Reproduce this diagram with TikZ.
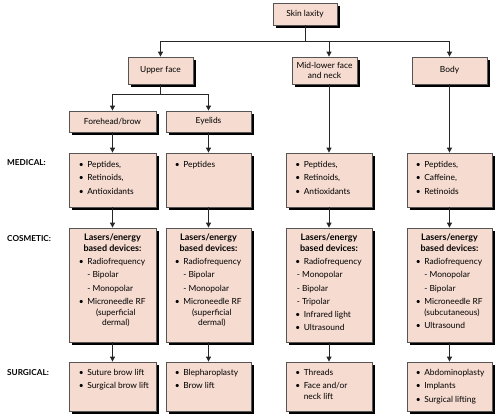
\documentclass[tikz,border=0pt]{standalone}
\usepackage{fontspec}
\setmainfont{Lato}
\usetikzlibrary{shadows,arrows.meta,calc}
\definecolor{boxfill}{RGB}{246,219,208}
\definecolor{boxline}{RGB}{85,85,85}
\tikzset{
 box/.style={draw=boxline, line width=0.8pt, fill=boxfill,
   drop shadow={shadow xshift=2.5pt, shadow yshift=-2.5pt, fill=black, opacity=1},
   inner sep=0pt, align=center, font=\fontsize{8.4}{10}\selectfont},
 txt/.style={anchor=north west, inner sep=0pt, align=left, font=\fontsize{8.4}{13.3}\selectfont},
 hdr/.style={anchor=north, inner sep=0pt, align=center, font=\bfseries\fontsize{9}{10.3}\selectfont},
 lbl/.style={anchor=west, inner sep=0pt, font=\bfseries\fontsize{8.2}{9}\selectfont},
 conn/.style={draw=black!85, line width=0.9pt},
 arr/.style={conn, -{Triangle[length=5pt,width=5pt]}},
}
\newcommand{\bul}{\makebox[8.5pt][l]{\textbullet}}
\newcommand{\ind}{\hspace*{8.5pt}}
\begin{document}
\begin{tikzpicture}[x=1pt,y=-1pt]
\useasboundingbox (0,0) rectangle (500,418);
% top levels
\node[box, minimum width=64, minimum height=22] (skin) at (305,14) {Skin laxity};
\node[box, minimum width=65, minimum height=27] (upper) at (160.5,70.5) {Upper face};
\node[box, minimum width=65, minimum height=27] (mid) at (324.5,70.5) {Mid-lower face\\and neck};
\node[box, minimum width=75, minimum height=27] (body) at (449.5,70.5) {Body};
\node[box, minimum width=87, minimum height=21] (fore) at (112.5,121.5) {Forehead/brow};
\node[box, minimum width=85, minimum height=21] (eye) at (208.5,121.5) {Eyelids};
% medical row
\node[box, minimum width=87, minimum height=54] (m1) at (112.5,180) {};
\node[box, minimum width=85, minimum height=54] (m2) at (208.5,180) {};
\node[box, minimum width=86, minimum height=54] (m3) at (329,180) {};
\node[box, minimum width=85, minimum height=54] (m4) at (449.5,180) {};
% cosmetic row
\node[box, minimum width=87, minimum height=114] (c1) at (112.5,285) {};
\node[box, minimum width=85, minimum height=114] (c2) at (208.5,285) {};
\node[box, minimum width=86, minimum height=114] (c3) at (329,285) {};
\node[box, minimum width=85, minimum height=114] (c4) at (449.5,285) {};
% surgical row
\node[box, minimum width=87, minimum height=49] (s1) at (112.5,386.5) {};
\node[box, minimum width=85, minimum height=49] (s2) at (208.5,386.5) {};
\node[box, minimum width=86, minimum height=49] (s3) at (329,386.5) {};
\node[box, minimum width=85, minimum height=49] (s4) at (449.5,386.5) {};
% row labels
\node[lbl] (lmed) at (7,162.5) {MEDICAL:};
\node[lbl] (lcos) at (7,239) {COSMETIC:};
\node[lbl] (lsur) at (7,372.5) {SURGICAL:};
% medical texts
\node[txt] (tm1) at ($(m1.north west)+(10,8.5)$) {\bul Peptides,\\\bul Retinoids,\\\bul Antioxidants};
\node[txt] (tm2) at ($(m2.north west)+(9,8.5)$) {\bul Peptides};
\node[txt] (tm3) at ($(m3.north west)+(9.5,8.5)$) {\bul Peptides,\\\bul Retinoids,\\\bul Antioxidants};
\node[txt] (tm4) at ($(m4.north west)+(9,8.5)$) {\bul Peptides,\\\bul Caffeine,\\\bul Retinoids};
% cosmetic texts
\node[hdr] (hc1) at ($(c1.north)+(0,6.5)$) {Lasers/energy\\based devices:};
\node[hdr] (hc2) at ($(c2.north)+(0,6.5)$) {Lasers/energy\\based devices:};
\node[hdr] (hc3) at ($(c3.north)+(0,6.5)$) {Lasers/energy\\based devices:};
\node[hdr] (hc4) at ($(c4.north)+(0,6.5)$) {Lasers/energy\\based devices:};
\node[txt] (tc1) at ($(c1.north west)+(10,30.5)$) {\bul Radiofrequency\\\ind - Bipolar\\\ind - Monopolar\\\bul Microneedle RF\\[-2.5pt]\ind\makebox[57pt][c]{(superficial}\\[-2.5pt]\ind\makebox[57pt][c]{dermal)}};
\node[txt] (tc2) at ($(c2.north west)+(9,30.5)$) {\bul Radiofrequency\\\ind - Bipolar\\\ind - Monopolar\\\bul Microneedle RF\\[-2.5pt]\ind\makebox[57pt][c]{(superficial}\\[-2.5pt]\ind\makebox[57pt][c]{dermal)}};
\node[txt] (tc3) at ($(c3.north west)+(9.5,30.5)$) {\bul Radiofrequency\\\hspace*{1.5pt}- Monopolar\\\hspace*{1.5pt}- Bipolar\\\hspace*{1.5pt}- Tripolar\\\bul Infrared light\\\bul Ultrasound};
\node[txt] (tc4) at ($(c4.north west)+(9,30.5)$) {\bul Radiofrequency\\\ind - Monopolar\\\ind - Bipolar\\\bul Microneedle RF\\[-2.5pt]\ind (subcutaneous)\\\bul Ultrasound};
% surgical texts
\node[txt] (ts1) at ($(s1.north west)+(10,7.5)$) {\bul Suture brow lift\\\bul Surgical brow lift};
\node[txt] (ts2) at ($(s2.north west)+(9,7.5)$) {\bul Blepharoplasty\\\bul Brow lift};
\node[txt] (ts3) at ($(s3.north west)+(9.5,7.5)$) {\bul Threads\\\bul Face and/or\\[-2.5pt]\ind neck lift};
\node[txt] (ts4) at ($(s4.north west)+(9,7.5)$) {\bul Abdominoplasty\\\bul Implants\\\bul Surgical lifting};
% connectors
\coordinate (j1) at ($(skin.south)+(0,16)$);
\draw[conn] (skin.south) -- (j1);
\draw[conn] (j1 -| upper.north) -- (j1 -| body.north);
\draw[arr] (j1 -| upper.north) -- (upper.north);
\draw[arr] (j1 -| m3.north) -- (m3.north |- mid.north);
\draw[arr] (j1 -| body.north) -- (body.north);
\coordinate (j2) at ($(upper.south)+(0,10)$);
\draw[conn] (upper.south) -- (j2);
\draw[conn] (j2 -| fore.north) -- (j2 -| eye.north);
\draw[arr] (j2 -| fore.north) -- (fore.north);
\draw[arr] (j2 -| eye.north) -- (eye.north);
\draw[arr] (fore.south) -- (m1.north);
\draw[arr] (eye.south) -- (m2.north);
\draw[arr] (m3.north |- mid.south) -- (m3.north);
\draw[arr] (body.south) -- (m4.north);
\draw[arr] (m1.south) -- (c1.north);
\draw[arr] (m2.south) -- (c2.north);
\draw[arr] (m3.south) -- (c3.north);
\draw[arr] (m4.south) -- (c4.north);
\draw[arr] (c1.south) -- (s1.north);
\draw[arr] (c2.south) -- (s2.north);
\draw[arr] (c3.south) -- (s3.north);
\draw[arr] (c4.south) -- (s4.north);
\end{tikzpicture}
\end{document}
